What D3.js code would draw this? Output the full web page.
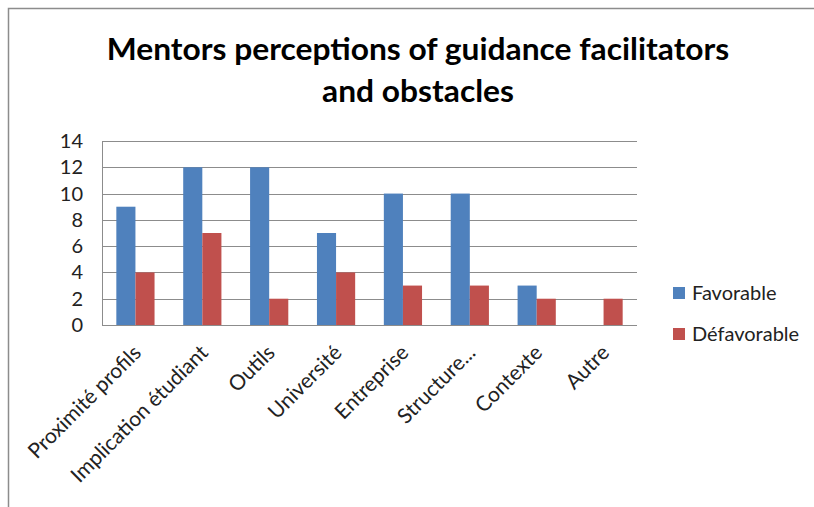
<!DOCTYPE html>
<html>
<head>
<meta charset="utf-8">
<script src="https://cdn.jsdelivr.net/npm/d3@7"></script>
<style>
  body { margin: 0; background: #fff; }
  svg { display: block; font-family: Lato, "Open Sans", sans-serif; }
</style>
</head>
<body>
<div id="chart"></div>
<script>
// données
const categories = ['Proximité profils', 'Implication étudiant', 'Outils', 'Université', 'Entreprise', 'Structure...', 'Contexte', 'Autre'];
const favorable = [9, 12, 12, 7, 10, 10, 3, 0];
const defavorable = [4, 7, 2, 4, 3, 3, 2, 2];
const seriesNames = ['Favorable', 'Défavorable'];
const yTicks = [0, 2, 4, 6, 8, 10, 12, 14];
const colors = ['#4F81BD', '#C0504D'];

const width = 814, height = 507;
const margin = { left: 102, right: 177, top: 141, bottom: 182 };
const fontSize = 20;

const svg = d3.select('#chart')
    .append('svg')
    .attr('width', width)
    .attr('height', height);

// cadre (seulement haut et gauche visibles)
svg.append('path')
    .attr('d', 'M8.5,' + height + 'V8.5H' + width)
    .attr('fill', 'none')
    .attr('stroke', '#8c8c8c')
    .attr('stroke-width', 1.5);

// titre : police plus haute, resserrée horizontalement
const title = svg.append('g');
const lines = ['Mentors perceptions of guidance facilitators', 'and obstacles'];
const titleText = title.append('text')
    .attr('text-anchor', 'middle')
    .attr('font-weight', 'bold')
    .attr('font-size', 31)
    .attr('fill', '#000');
titleText.append('tspan').attr('x', 0).attr('y', 60).text(lines[0]);
titleText.append('tspan').attr('x', 0).attr('y', 102).text(lines[1]);
const tw = titleText.select('tspan').node().getComputedTextLength();
title.attr('transform', `translate(418,0) scale(${623 / tw},1)`);

const x = d3.scaleBand()
    .domain(categories)
    .range([margin.left, width - margin.right]);

const y = d3.scaleLinear()
    .domain([0, 14])
    .range([height - margin.bottom, margin.top]);

const inner = d3.scaleBand()
    .domain(seriesNames)
    .range([0, x.bandwidth()])
    .paddingInner(0)
    .paddingOuter(0.75);

// grille
svg.append('g')
    .selectAll('line')
    .data(yTicks)
    .enter()
    .append('line')
    .attr('x1', margin.left)
    .attr('x2', width - margin.right)
    .attr('y1', d => Math.round(y(d)) + 0.5)
    .attr('y2', d => Math.round(y(d)) + 0.5)
    .attr('stroke', '#8c8c8c')
    .attr('stroke-width', 1.2);

// axe vertical
svg.append('line')
    .attr('x1', margin.left + 0.5).attr('x2', margin.left + 0.5)
    .attr('y1', y(14)).attr('y2', y(0))
    .attr('stroke', '#8c8c8c');

svg.append('g')
    .selectAll('text')
    .data(yTicks)
    .enter()
    .append('text')
    .attr('x', 83)
    .attr('y', d => y(d))
    .attr('dy', '0.35em')
    .attr('text-anchor', 'end')
    .attr('font-size', fontSize)
    .attr('fill', '#222')
    .text(d => d);

// barres
const series = [favorable, defavorable];
series.forEach((vals, si) => {
    svg.append('g')
        .selectAll('rect')
        .data(vals)
        .enter()
        .append('rect')
        .attr('x', (d, i) => x(categories[i]) + inner(seriesNames[si]))
        .attr('y', d => y(d))
        .attr('width', inner.bandwidth())
        .attr('height', d => y(0) - y(d))
        .attr('fill', colors[si]);
});

// étiquettes des catégories
svg.append('g')
    .selectAll('text')
    .data(categories)
    .enter()
    .append('text')
    .attr('transform', d => `translate(${x(d) + x.bandwidth() / 2 + 7},${y(0) + 29}) rotate(-45)`)
    .attr('text-anchor', 'end')
    .attr('font-size', 21)
    .attr('fill', '#222')
    .text(d => d);

// légende
const legend = svg.append('g')
    .selectAll('g')
    .data(seriesNames)
    .enter()
    .append('g')
    .attr('transform', (d, i) => `translate(673,${287 + i * 41})`);

legend.append('rect')
    .attr('width', 12).attr('height', 12)
    .attr('fill', (d, i) => colors[i]);

legend.append('text')
    .attr('x', 19)
    .attr('y', 6)
    .attr('dy', '0.35em')
    .attr('font-size', fontSize)
    .attr('fill', '#222')
    .text(d => d);
</script>
</body>
</html>
